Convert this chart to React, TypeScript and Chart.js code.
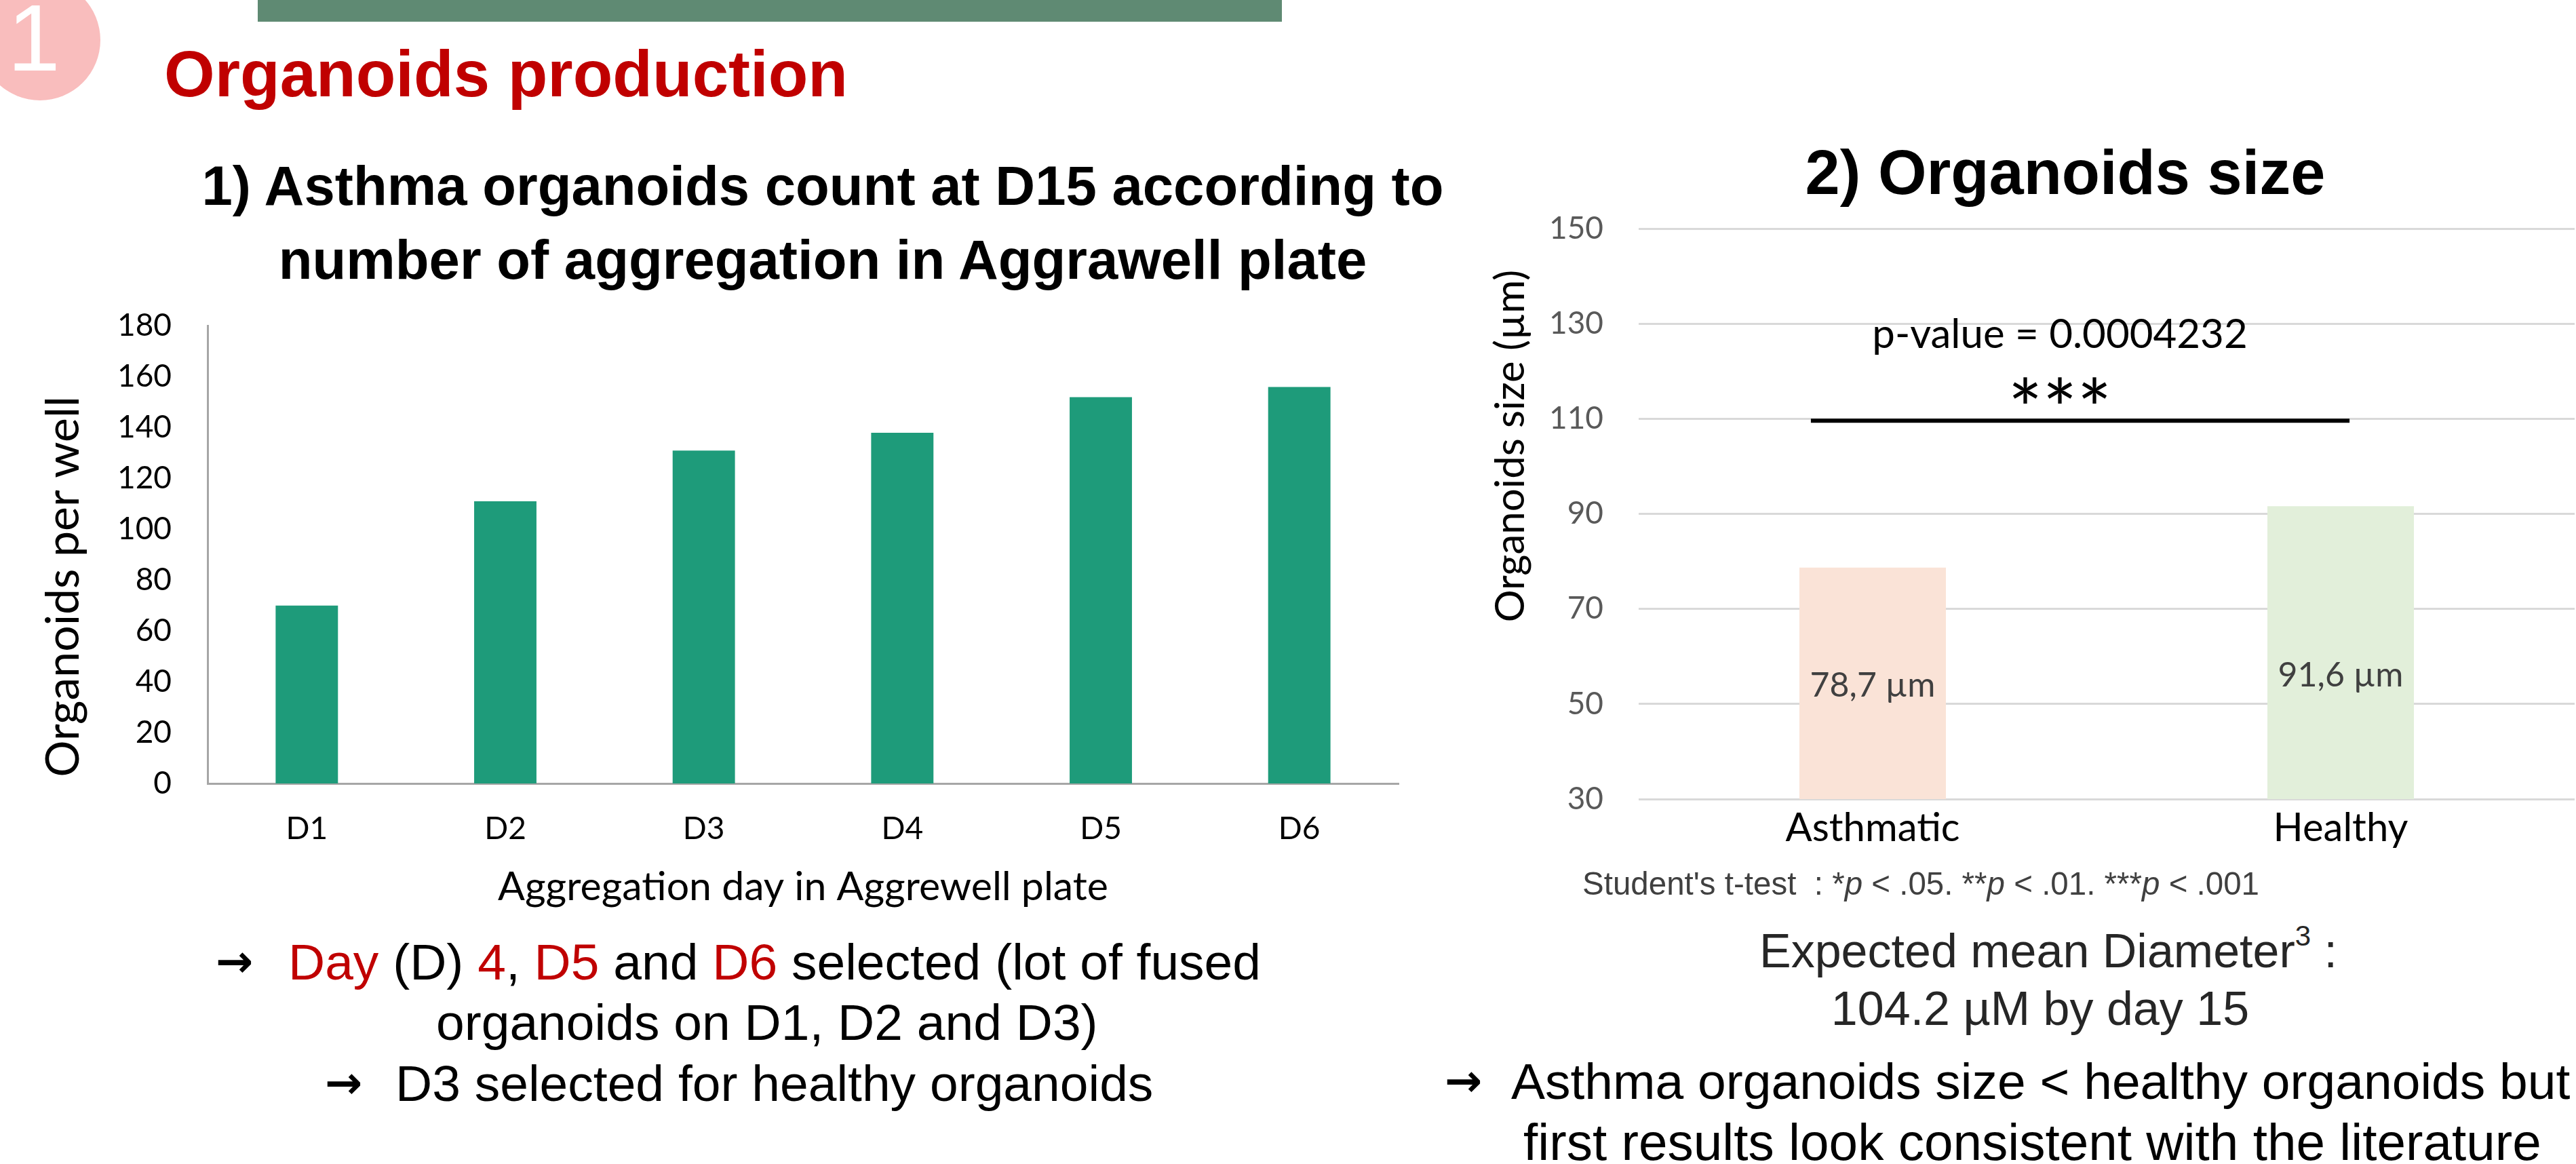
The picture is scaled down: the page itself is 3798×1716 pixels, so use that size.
import React, { useEffect, useRef } from "react";
import { Chart, registerables } from "chart.js";

Chart.register(...registerables);

// ---------------- Data ----------------
const DAYS = ["D1", "D2", "D3", "D4", "D5", "D6"];
const ORGANOIDS_PER_WELL = [70, 111, 131, 138, 152, 156];
const COUNT_MIN = 0;
const COUNT_MAX = 180;
const COUNT_STEP = 20;

const GROUPS = ["Asthmatic", "Healthy"];
const MEAN_SIZE_UM = [78.7, 91.6];
const SIZE_VALUE_LABELS = ["78,7 µm", "91,6 µm"];
const SIZE_MIN = 30;
const SIZE_MAX = 150;
const SIZE_STEP = 20;
const P_VALUE_TEXT = "p-value = 0.0004232";
const SIGNIF_STARS = "***";

// annotation anchors (data units: category index / axis value)
const SIZE_LABEL_ANCHORS = [53.8, 56.0];
const SIG_FROM_INDEX = -0.132;
const SIG_TO_INDEX = 1.019;
const SIG_LINE_VALUE = 109.6;
const SIG_TEXT_INDEX = 0.4;
const SIG_STARS_VALUE = 115.3;
const P_VALUE_VALUE = 127.7;

const CAL = "Lato, 'Open Sans', sans-serif";
const ARIAL = "'Liberation Sans', Arial, sans-serif";
const ARROW_FONT = "'DejaVu Sans', sans-serif";

const leftYTitle = {
  id: "leftYTitle",
  afterDraw(chart: any) {
    const { ctx, chartArea } = chart;
    ctx.save();
    ctx.translate(94, (chartArea.top + chartArea.bottom) / 2 + 47);
    ctx.rotate(-Math.PI / 2);
    ctx.font = `68px ${CAL}`;
    ctx.fillStyle = "#000";
    ctx.textAlign = "center";
    ctx.textBaseline = "middle";
    ctx.fillText("Organoids per well", 0, 0);
    ctx.restore();
  },
};

const sizeAnnotations = {
  id: "sizeAnnotations",
  afterDraw(chart: any) {
    const { ctx, chartArea } = chart;
    const x = chart.scales.x;
    const y = chart.scales.y;
    ctx.save();
    // y axis title
    ctx.save();
    ctx.translate(148, (chartArea.top + chartArea.bottom) / 2 - 100);
    ctx.rotate(-Math.PI / 2);
    ctx.font = `60px ${CAL}`;
    ctx.fillStyle = "#000";
    ctx.textAlign = "center";
    ctx.textBaseline = "middle";
    ctx.fillText("Organoids size (µm)", 0, 0);
    ctx.restore();
    // value labels
    ctx.font = `50px ${CAL}`;
    ctx.fillStyle = "#404040";
    ctx.textAlign = "center";
    ctx.textBaseline = "middle";
    SIZE_VALUE_LABELS.forEach((t, i) => {
      ctx.fillText(t, x.getPixelForValue(i), y.getPixelForValue(SIZE_LABEL_ANCHORS[i]));
    });
    // significance bar
    ctx.strokeStyle = "#000";
    ctx.lineWidth = 6;
    ctx.beginPath();
    ctx.moveTo(x.getPixelForValue(SIG_FROM_INDEX), y.getPixelForValue(SIG_LINE_VALUE));
    ctx.lineTo(x.getPixelForValue(SIG_TO_INDEX), y.getPixelForValue(SIG_LINE_VALUE));
    ctx.stroke();
    ctx.fillStyle = "#000";
    const starSize = 120;
    ctx.font = `${starSize}px ${CAL}`;
    ctx.textBaseline = "alphabetic";
    ctx.fillText(SIGNIF_STARS, x.getPixelForValue(SIG_TEXT_INDEX), y.getPixelForValue(SIG_STARS_VALUE) + 0.56 * starSize);
    ctx.textBaseline = "middle";
    ctx.font = `60px ${CAL}`;
    ctx.fillText(P_VALUE_TEXT, x.getPixelForValue(SIG_TEXT_INDEX), y.getPixelForValue(P_VALUE_VALUE));
    ctx.restore();
  },
};

function CountChart() {
  const ref = useRef<HTMLCanvasElement>(null);
  useEffect(() => {
    const chart = new Chart(ref.current as HTMLCanvasElement, {
      type: "bar",
      data: {
        labels: DAYS,
        datasets: [
          {
            data: ORGANOIDS_PER_WELL,
            backgroundColor: "#1E9B7A",
            barPercentage: 0.314,
            categoryPercentage: 1,
          },
        ],
      },
      options: {
        animation: false,
        responsive: false,
        events: [],
        layout: { padding: { left: 0, top: 70, right: 38, bottom: 0 } },
        plugins: { legend: { display: false }, tooltip: { enabled: false } },
        scales: {
          y: {
            min: COUNT_MIN,
            max: COUNT_MAX,
            ticks: { stepSize: COUNT_STEP, color: "#000", font: { family: CAL, size: 46 }, padding: 53 },
            grid: { display: false, drawTicks: false },
            border: { display: true, color: "#A6A6A6", width: 3 },
            afterFit: (s: any) => {
              s.width = 306;
            },
          },
          x: {
            ticks: { color: "#000", font: { family: CAL, size: 46 }, padding: 40 },
            grid: { display: false, drawTicks: false },
            border: { display: true, color: "#A6A6A6", width: 3 },
            title: {
              display: true,
              text: "Aggregation day in Aggrewell plate",
              color: "#000",
              font: { family: CAL, size: 59 },
              padding: { top: 0, bottom: 17 },
            },
            afterFit: (s: any) => {
              s.height = 205;
            },
          },
        },
      },
      plugins: [leftYTitle],
    } as any);
    return () => chart.destroy();
  }, []);
  return (
    <canvas
      ref={ref}
      width={2100}
      height={960}
      style={{ position: "absolute", left: 0, top: 400, width: 2100, height: 960 }}
    />
  );
}

function SizeChart() {
  const ref = useRef<HTMLCanvasElement>(null);
  useEffect(() => {
    const chart = new Chart(ref.current as HTMLCanvasElement, {
      type: "bar",
      data: {
        labels: GROUPS,
        datasets: [
          {
            data: MEAN_SIZE_UM,
            backgroundColor: ["#FAE3D7", "#E2EFDA"],
            barPercentage: 0.313,
            categoryPercentage: 1,
          },
        ],
      },
      options: {
        animation: false,
        responsive: false,
        events: [],
        layout: { padding: { left: 0, top: 137, right: 2, bottom: 0 } },
        plugins: { legend: { display: false }, tooltip: { enabled: false } },
        scales: {
          y: {
            min: SIZE_MIN,
            max: SIZE_MAX,
            ticks: { stepSize: SIZE_STEP, color: "#595959", font: { family: CAL, size: 46 }, padding: 52 },
            grid: { display: true, color: "#D9D9D9", lineWidth: 3, drawTicks: false },
            border: { display: false },
            afterFit: (s: any) => {
              s.width = 336;
            },
          },
          x: {
            ticks: { color: "#000", font: { family: CAL, size: 58 }, padding: 8 },
            grid: { display: false, drawTicks: false },
            border: { display: false },
            afterFit: (s: any) => {
              s.height = 172;
            },
          },
        },
      },
      plugins: [sizeAnnotations],
    } as any);
    return () => chart.destroy();
  }, []);
  return (
    <canvas
      ref={ref}
      width={1718}
      height={1150}
      style={{ position: "absolute", left: 2080, top: 200, width: 1718, height: 1150 }}
    />
  );
}

const abs = (s: React.CSSProperties): React.CSSProperties => ({
  position: "absolute",
  whiteSpace: "nowrap",
  lineHeight: 1,
  ...s,
});
const RED = "#C00000";
const arrow = (left: number, top: number) => (
  <div
    style={abs({
      left,
      top,
      transform: "translateY(-50%)",
      fontSize: 66,
      fontWeight: 700,
      fontFamily: ARROW_FONT,
    })}
  >
    →
  </div>
);

export default function App() {
  return (
    <div
      style={{
        position: "absolute",
        left: 0,
        top: 0,
        width: 3798,
        height: 1716,
        overflow: "hidden",
        background: "#fff",
        fontFamily: ARIAL,
        color: "#000",
      }}
    >
      {/* header decorations */}
      <div style={{ position: "absolute", left: -30, top: -30, width: 178, height: 178, borderRadius: "50%", background: "#F9BDBD" }} />
      <div style={abs({ left: 50, top: 56, transform: "translate(-50%,-50%)", fontSize: 140, color: "#fff" })}>1</div>
      <div style={{ position: "absolute", left: 380, top: 0, width: 1510, height: 32, background: "#5F8A73" }} />
      <div style={abs({ left: 242, top: 109, transform: "translateY(-50%)", fontSize: 96, fontWeight: 700, color: RED })}>
        Organoids production
      </div>

      {/* left chart heading */}
      <div style={abs({ left: 1213, top: 274, transform: "translate(-50%,-50%)", fontSize: 81.5, fontWeight: 700 })}>
        1) Asthma organoids count at D15 according to
      </div>
      <div style={abs({ left: 1213, top: 383, transform: "translate(-50%,-50%)", fontSize: 81.5, fontWeight: 700 })}>
        number of aggregation in Aggrawell plate
      </div>

      <CountChart />
      <SizeChart />

      {/* right chart heading */}
      <div style={abs({ left: 3045, top: 254, transform: "translate(-50%,-50%)", fontSize: 92, fontWeight: 700 })}>
        2) Organoids size
      </div>

      {/* left notes */}
      {arrow(318, 1418)}
      <div style={abs({ left: 425, top: 1418, transform: "translateY(-50%)", fontSize: 75 })}>
        <span style={{ color: RED }}>Day</span> (D) <span style={{ color: RED }}>4</span>,{" "}
        <span style={{ color: RED }}>D5</span> and <span style={{ color: RED }}>D6</span> selected (lot of fused
      </div>
      <div style={abs({ left: 643, top: 1507, transform: "translateY(-50%)", fontSize: 75 })}>
        organoids on D1, D2 and D3)
      </div>
      {arrow(479, 1597)}
      <div style={abs({ left: 583, top: 1597, transform: "translateY(-50%)", fontSize: 75 })}>
        D3 selected for healthy organoids
      </div>

      {/* right notes */}
      <div style={abs({ left: 2333, top: 1303, transform: "translateY(-50%)", fontSize: 47.5, color: "#404040" })}>
        Student's t-test&nbsp; : *<i>p</i> &lt; .05. **<i>p</i> &lt; .01. ***<i>p</i> &lt; .001
      </div>
      <div style={abs({ left: 3020, top: 1398, transform: "translate(-50%,-50%)", fontSize: 70, color: "#262626" })}>
        Expected mean Diameter<sup style={{ fontSize: 42, verticalAlign: "0.75em" }}>3</sup> :
      </div>
      <div style={abs({ left: 3008, top: 1487, transform: "translate(-50%,-50%)", fontSize: 70, color: "#262626" })}>
        104.2 µM by day 15
      </div>
      {arrow(2130, 1594)}
      <div style={abs({ left: 2228, top: 1594, transform: "translateY(-50%)", fontSize: 75 })}>
        Asthma organoids size &lt; healthy organoids but
      </div>
      <div style={abs({ left: 2246, top: 1684, transform: "translateY(-50%)", fontSize: 76.5 })}>
        first results look consistent with the literature
      </div>
    </div>
  );
}
